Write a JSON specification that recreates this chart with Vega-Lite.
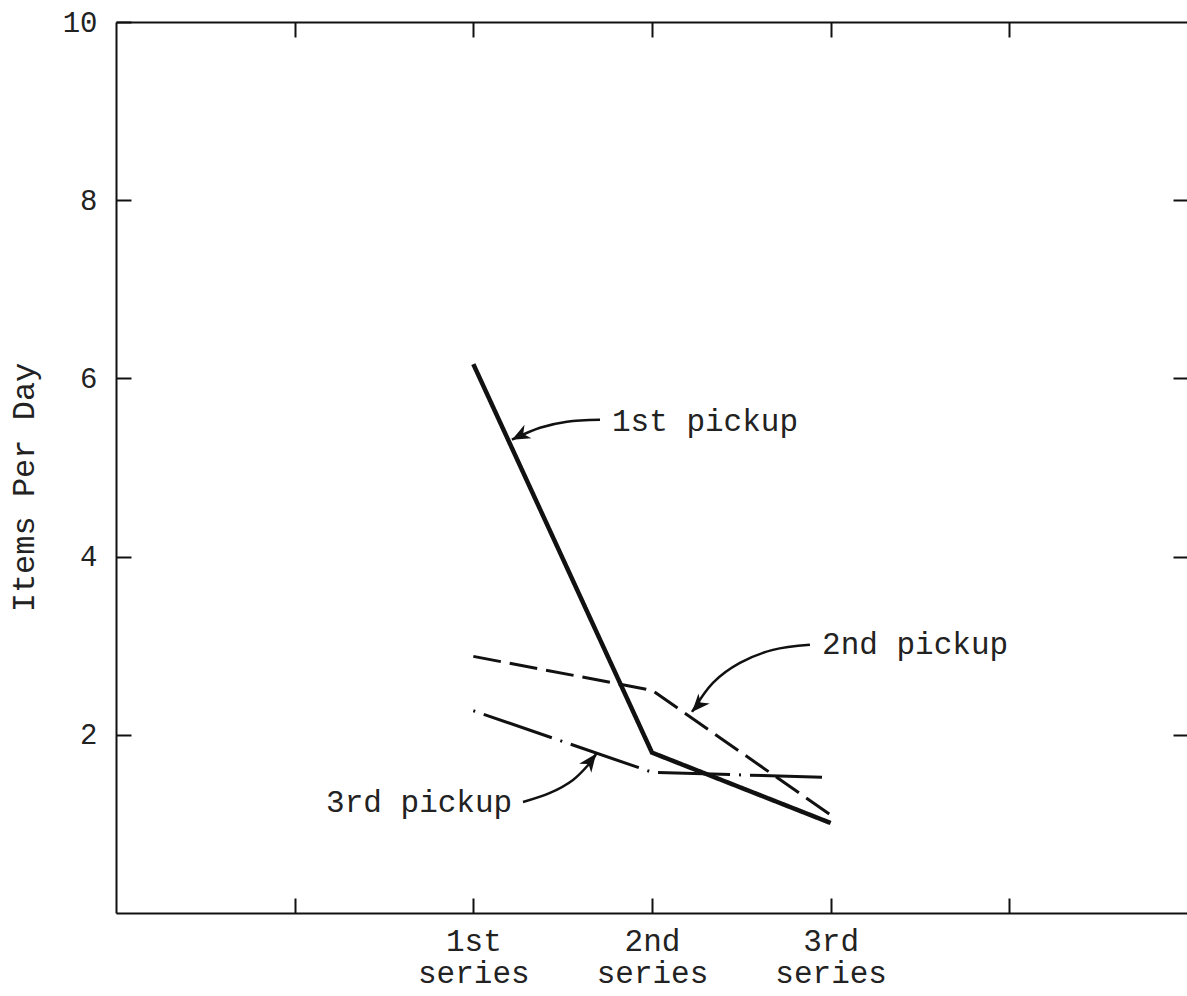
{
  "$schema": "https://vega.github.io/schema/vega-lite/v6.json",
  "width": 1072,
  "height": 891,
  "autosize": {"type": "none"},
  "padding": {"left": 116, "top": 22, "right": 0, "bottom": 83},
  "background": "white",
  "config": {
    "view": {"stroke": null},
    "font": "Liberation Mono",
    "axis": {
      "domainColor": "#111",
      "domainWidth": 2,
      "tickColor": "#111",
      "tickWidth": 2,
      "grid": false,
      "labelFont": "Liberation Mono",
      "titleFont": "Liberation Mono",
      "labelColor": "#222",
      "titleColor": "#222",
      "titleFontWeight": "normal"
    }
  },
  "datasets": {
    "lines": [
      {"series": 2, "value": 6.16, "pickup": "1st pickup"},
      {"series": 3, "value": 1.8, "pickup": "1st pickup"},
      {"series": 4, "value": 1.01, "pickup": "1st pickup"},
      {"series": 2, "value": 2.88, "pickup": "2nd pickup"},
      {"series": 3, "value": 2.5, "pickup": "2nd pickup"},
      {"series": 4, "value": 1.1, "pickup": "2nd pickup"},
      {"series": 2, "value": 2.27, "pickup": "3rd pickup"},
      {"series": 3, "value": 1.58, "pickup": "3rd pickup"},
      {"series": 4, "value": 1.52, "pickup": "3rd pickup"}
    ],
    "arrows": [
      {"arrow": "a1", "seq": 1, "x": 2.709, "y": 5.536},
      {"arrow": "a1", "seq": 2, "x": 2.524, "y": 5.514},
      {"arrow": "a1", "seq": 3, "x": 2.373, "y": 5.446},
      {"arrow": "a1", "seq": 4, "x": 2.216, "y": 5.312},
      {"arrow": "a2", "seq": 1, "x": 3.884, "y": 3.010},
      {"arrow": "a2", "seq": 2, "x": 3.677, "y": 2.953},
      {"arrow": "a2", "seq": 3, "x": 3.492, "y": 2.807},
      {"arrow": "a2", "seq": 4, "x": 3.341, "y": 2.583},
      {"arrow": "a2", "seq": 5, "x": 3.224, "y": 2.257},
      {"arrow": "a3", "seq": 1, "x": 2.278, "y": 1.246},
      {"arrow": "a3", "seq": 2, "x": 2.429, "y": 1.348},
      {"arrow": "a3", "seq": 3, "x": 2.558, "y": 1.494},
      {"arrow": "a3", "seq": 4, "x": 2.653, "y": 1.684},
      {"arrow": "a3", "seq": 5, "x": 2.687, "y": 1.786}
    ],
    "tips": [
      {"arrow": "a1", "x": 2.216, "y": 5.312},
      {"arrow": "a2", "x": 3.224, "y": 2.257},
      {"arrow": "a3", "x": 2.687, "y": 1.786}
    ],
    "labels": [
      {"text": "1st pickup", "x": 2.776, "y": 5.514},
      {"text": "2nd pickup", "x": 3.952, "y": 3.01},
      {"text": "3rd pickup", "x": 1.176, "y": 1.235}
    ]
  },
  "layer": [
    {
      "data": {"name": "lines"},
      "mark": {"type": "line", "color": "#111", "strokeCap": "butt"},
      "encoding": {
        "x": {
          "field": "series", "type": "quantitative",
          "scale": {"domain": [0, 6], "nice": false, "zero": false},
          "axis": {
            "orient": "bottom", "values": [1, 2, 3, 4, 5], "tickSize": -15,
            "labelExpr": "datum.value == 2 ? ['1st', 'series'] : datum.value == 3 ? ['2nd', 'series'] : datum.value == 4 ? ['3rd', 'series'] : ''",
            "labelFontSize": 31, "labelLineHeight": 32, "labelPadding": 28,
            "labelBaseline": "top", "title": null
          }
        },
        "y": {
          "field": "value", "type": "quantitative",
          "scale": {"domain": [0, 10], "nice": false, "zero": true},
          "axis": {
            "orient": "left", "values": [2, 4, 6, 8, 10], "tickSize": -15,
            "labelFontSize": 29, "labelPadding": 34,
            "title": "Items Per Day", "titleFontSize": 32,
            "titleX": -93, "titleY": 465, "titleAngle": -90,
            "titleAlign": "center", "titleBaseline": "middle"
          }
        },
        "detail": {"field": "pickup"},
        "strokeDash": {
          "field": "pickup", "type": "nominal",
          "scale": {"domain": ["1st pickup", "2nd pickup", "3rd pickup"], "range": [[1, 0], [28, 9], [2, 9, 72, 9]]},
          "legend": null
        },
        "strokeWidth": {
          "condition": {"test": "datum.pickup == '1st pickup'", "value": 4.5},
          "value": 3
        }
      }
    },
    {
      "data": {"name": "lines"},
      "mark": {"type": "point", "opacity": 0},
      "encoding": {
        "x": {
          "field": "series", "type": "quantitative",
          "axis": {"orient": "top", "values": [1, 2, 3, 4, 5], "tickSize": -15, "labels": false, "title": null}
        },
        "y": {
          "field": "value", "type": "quantitative",
          "axis": {"orient": "right", "values": [2, 4, 6, 8], "tickSize": -15, "labels": false, "title": null}
        }
      }
    },
    {
      "data": {"name": "arrows"},
      "mark": {"type": "line", "color": "#111", "strokeWidth": 2.5, "interpolate": "cardinal"},
      "encoding": {
        "x": {"field": "x", "type": "quantitative", "axis": null},
        "y": {"field": "y", "type": "quantitative", "axis": null},
        "detail": {"field": "arrow"},
        "order": {"field": "seq"}
      }
    },
    {
      "data": {"name": "tips"},
      "transform": [{"filter": "datum.arrow == 'a1'"}],
      "mark": {"type": "point", "shape": "M0,0L-1,-0.42L-0.7,0L-1,0.42Z", "filled": true, "color": "#111", "size": 1300, "angle": 153, "opacity": 1},
      "encoding": {
        "x": {"field": "x", "type": "quantitative", "axis": null},
        "y": {"field": "y", "type": "quantitative", "axis": null}
      }
    },
    {
      "data": {"name": "tips"},
      "transform": [{"filter": "datum.arrow == 'a2'"}],
      "mark": {"type": "point", "shape": "M0,0L-1,-0.42L-0.7,0L-1,0.42Z", "filled": true, "color": "#111", "size": 1300, "angle": 132, "opacity": 1},
      "encoding": {
        "x": {"field": "x", "type": "quantitative", "axis": null},
        "y": {"field": "y", "type": "quantitative", "axis": null}
      }
    },
    {
      "data": {"name": "tips"},
      "transform": [{"filter": "datum.arrow == 'a3'"}],
      "mark": {"type": "point", "shape": "M0,0L-1,-0.42L-0.7,0L-1,0.42Z", "filled": true, "color": "#111", "size": 1300, "angle": 307, "opacity": 1},
      "encoding": {
        "x": {"field": "x", "type": "quantitative", "axis": null},
        "y": {"field": "y", "type": "quantitative", "axis": null}
      }
    },
    {
      "data": {"name": "labels"},
      "mark": {"type": "text", "align": "left", "baseline": "middle", "fontSize": 31, "font": "Liberation Mono", "color": "#222"},
      "encoding": {
        "x": {"field": "x", "type": "quantitative", "axis": null},
        "y": {"field": "y", "type": "quantitative", "axis": null},
        "text": {"field": "text"}
      }
    }
  ],
  "resolve": {"axis": {"x": "independent", "y": "independent"}}
}
